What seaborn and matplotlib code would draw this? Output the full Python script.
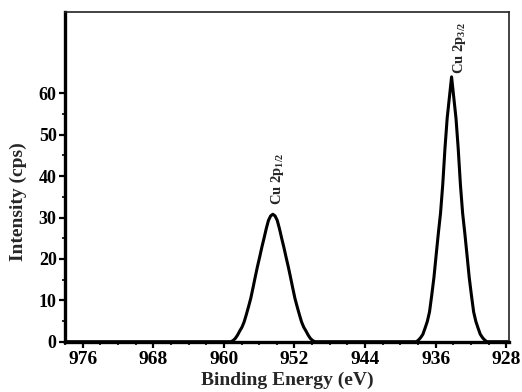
import matplotlib
matplotlib.use("Agg")
import matplotlib.pyplot as plt
from matplotlib.ticker import MultipleLocator, FixedLocator
import seaborn as sns
import pandas as pd

# Cu 2p XPS spectrum, binding energy (eV) vs intensity (cps)
baseline_energy = [978.0, 927.7]
peak_half_energy = [959.20, 958.95, 958.70, 958.45, 958.20, 957.95, 957.70,
                    957.45, 957.20, 956.95, 956.70, 956.45, 956.20, 955.95,
                    955.70, 955.45, 955.20, 954.95, 954.70, 954.45, 954.20,
                    953.95, 953.70, 953.45, 953.20, 952.95, 952.70, 952.45,
                    952.20, 951.95, 951.70, 951.45, 951.20, 950.95, 950.70,
                    950.45, 950.20, 949.95, 949.70]
peak_half_counts = [0.0, 0.3, 0.8, 1.6, 2.6, 3.5, 4.8, 6.6, 8.5, 10.5, 13.0,
                    15.6, 18.1, 20.4, 22.8, 25.0, 27.3, 29.3, 30.4, 30.8,
                    30.4, 29.3, 27.3, 25.0, 22.8, 20.4, 18.1, 15.6, 13.0,
                    10.5, 8.5, 6.6, 4.8, 3.5, 2.6, 1.6, 0.8, 0.3, 0.0]
peak_three_half_energy = [938.20, 937.95, 937.70, 937.45, 937.20, 936.95,
                          936.70, 936.45, 936.20, 935.95, 935.70, 935.45,
                          935.20, 934.95, 934.70, 934.45, 934.20, 933.95,
                          933.70, 933.45, 933.20, 932.95, 932.70, 932.45,
                          932.20, 931.95, 931.70, 931.45, 931.20, 930.95,
                          930.70, 930.45, 930.20]
peak_three_half_counts = [0.0, 0.4, 1.0, 1.8, 3.3, 4.9, 7.2, 11.2, 15.5,
                          20.9, 26.2, 31.1, 38.0, 46.7, 54.0, 59.0, 64.0,
                          59.0, 54.0, 46.7, 38.0, 31.1, 26.2, 20.9, 15.5,
                          11.2, 7.2, 4.9, 3.3, 1.8, 1.0, 0.4, 0.0]

x_ticks = [976, 968, 960, 952, 944, 936, 928]
y_ticks = [0, 10, 20, 30, 40, 50, 60]
peak_labels = [r"Cu 2p$_{1/2}$", r"Cu 2p$_{3/2}$"]

energy = [baseline_energy[0]] + peak_half_energy + peak_three_half_energy + [baseline_energy[1]]
counts = [0.0] + peak_half_counts + peak_three_half_counts + [0.0]
spectrum = pd.DataFrame({"energy": energy, "counts": counts})

sns.set_style("ticks")
plt.rcParams["font.family"] = ["Liberation Serif", "DejaVu Serif"]
plt.rcParams["font.weight"] = "bold"
plt.rcParams["mathtext.fontset"] = "custom"
plt.rcParams["mathtext.rm"] = "Liberation Serif:bold"
plt.rcParams["mathtext.it"] = "Liberation Serif:bold"
plt.rcParams["mathtext.bf"] = "Liberation Serif:bold"
plt.rcParams["mathtext.default"] = "rm"

fig = plt.figure(figsize=(5.22, 3.92), dpi=100)
ax = fig.add_axes([0.1245, 0.1283, 0.8505, 0.8403])

sns.lineplot(data=spectrum, x="energy", y="counts", ax=ax, color="black",
             linewidth=2.2, sort=False, estimator=None)

ax.set_xlim(978.0, 927.7)
ax.set_ylim(0, 79.6)
ax.xaxis.set_major_locator(FixedLocator(x_ticks))
ax.xaxis.set_minor_locator(MultipleLocator(2))
ax.yaxis.set_major_locator(FixedLocator(y_ticks))
ax.yaxis.set_minor_locator(FixedLocator([v + 5 for v in y_ticks[:-1]]))

for side in ["left", "bottom"]:
    ax.spines[side].set_linewidth(2.4)
    ax.spines[side].set_color("black")
for side in ["top", "right"]:
    ax.spines[side].set_visible(True)
    ax.spines[side].set_linewidth(1.2)
    ax.spines[side].set_color("#222222")

ax.tick_params(axis="both", which="major", direction="out", length=4.5,
               width=1.6, labelsize=13, pad=1.5, colors="black")
ax.tick_params(axis="both", which="minor", direction="out", length=2.5,
               width=1.2, colors="black")
ax.tick_params(axis="x", which="major", pad=2.5, labelsize=14)
for lbl in ax.get_xticklabels() + ax.get_yticklabels():
    lbl.set_fontweight("bold")

ax.set_xlabel("Binding Energy (eV)", fontsize=14, fontweight="bold", labelpad=2)
ax.set_ylabel("Intensity (cps)", fontsize=14, fontweight="bold", labelpad=6)
ax.yaxis.set_label_coords(-0.085, 0.426)

# Peak labels, written vertically just above each maximum
peaks = [(954.45, 30.8, (3.6, 7)), (934.2, 64.0, (5.8, 2))]
for text, (x, y, off) in zip(peak_labels, peaks):
    ax.annotate(text, xy=(x, y), xytext=off, textcoords="offset points",
                rotation=90, ha="center", va="bottom", fontsize=10.5,
                fontweight="bold")

fig.savefig("out.png", dpi=100)
